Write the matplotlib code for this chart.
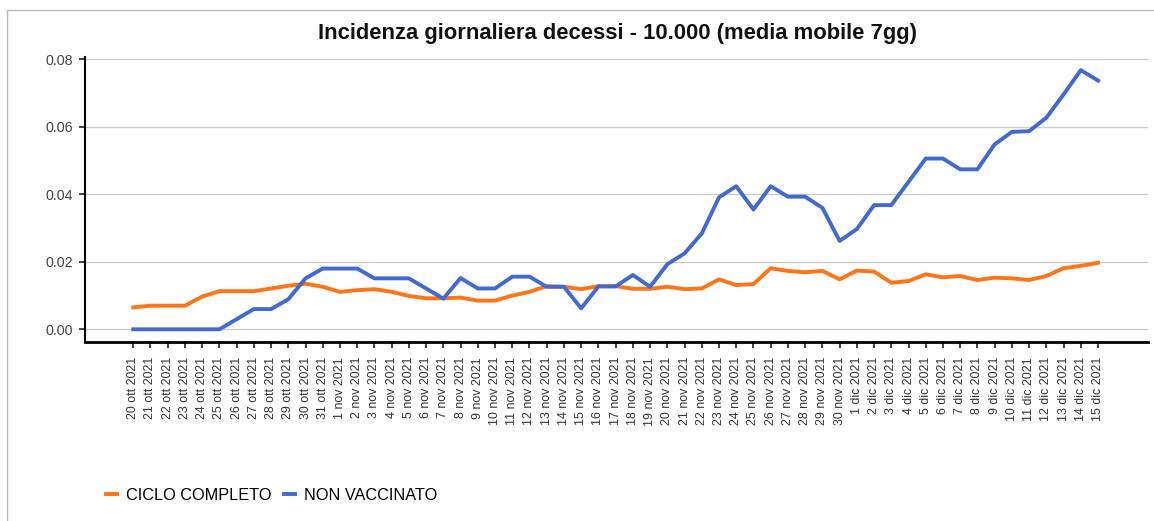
import numpy as np
import pandas as pd
import matplotlib.pyplot as plt
from matplotlib.lines import Line2D

plt.rcParams['font.family'] = ['Liberation Sans', 'DejaVu Sans']

# categories: daily dates 20 ott 2021 -> 15 dic 2021
mesi = {10: 'ott', 11: 'nov', 12: 'dic'}
days = pd.date_range('2021-10-20', '2021-12-15')
date_labels = ['%d %s %d' % (d.day, mesi[d.month], d.year) for d in days]

ciclo_completo = [0.0065, 0.0070, 0.0070, 0.0070, 0.0097, 0.0113, 0.0113, 0.0113, 0.0121, 0.0129,
                  0.0135, 0.0126, 0.0111, 0.0116, 0.0119, 0.0111, 0.0099, 0.0092, 0.0092, 0.0094,
                  0.0085, 0.0085, 0.0100, 0.0111, 0.0128, 0.0126, 0.0119, 0.0128, 0.0128, 0.0120,
                  0.0120, 0.0126, 0.0119, 0.0121, 0.0148, 0.0131, 0.0134, 0.0181, 0.0173, 0.0169,
                  0.0173, 0.0148, 0.0174, 0.0171, 0.0138, 0.0143, 0.0163, 0.0154, 0.0158, 0.0146,
                  0.0153, 0.0151, 0.0146, 0.0158, 0.0181, 0.0188, 0.0197]
non_vaccinato = [0.0, 0.0, 0.0, 0.0, 0.0, 0.0, 0.0030, 0.0060, 0.0060, 0.0089,
                 0.0151, 0.0180, 0.0180, 0.0180, 0.0151, 0.0151, 0.0151, 0.0121, 0.0091, 0.0152,
                 0.0121, 0.0121, 0.0156, 0.0156, 0.0126, 0.0126, 0.0062, 0.0127, 0.0127, 0.0161,
                 0.0126, 0.0193, 0.0225, 0.0284, 0.0391, 0.0424, 0.0355, 0.0424, 0.0393, 0.0393,
                 0.0360, 0.0262, 0.0297, 0.0368, 0.0368, 0.0437, 0.0506, 0.0506, 0.0474, 0.0474,
                 0.0548, 0.0585, 0.0587, 0.0627, 0.0696, 0.0768, 0.0737]
y_ticks = [0.00, 0.02, 0.04, 0.06, 0.08]

col_ciclo = '#ff7417'
col_non = '#4169cf'

W, H = 1154, 521
fig = plt.figure(figsize=(W / 100, H / 100), dpi=100)
ax = fig.add_axes([85 / W, 1 - 341.7 / H, (1148 - 85) / W, (341.7 - 57.3) / H])

x = np.arange(len(date_labels))
ax.plot(x, ciclo_completo, color=col_ciclo, lw=2.8, solid_joinstyle='round', label='CICLO COMPLETO')
ax.plot(x, non_vaccinato, color=col_non, lw=2.8, solid_joinstyle='round', label='NON VACCINATO')

ax.set_xlim(-2.8, 58.9)
ax.set_ylim(-0.00367, 0.0806)
ax.set_yticks(y_ticks)
ax.set_yticklabels(['%.2f' % v for v in y_ticks])
ax.set_xticks(x)
ax.set_xticklabels(date_labels, rotation=90, ha='center', va='top')
ax.grid(axis='y', color='#cccccc', lw=1)
ax.set_axisbelow(True)

for s in ['top', 'right']:
    ax.spines[s].set_visible(False)
ax.spines['left'].set_linewidth(1.5)
ax.spines['bottom'].set_linewidth(2)
ax.tick_params(axis='y', length=4, width=1.2, color='#222222', pad=4.5, labelsize=10.3, labelcolor='#444444')
ax.tick_params(axis='x', length=4, width=1.2, color='#222222', pad=7, labelsize=8.9, labelcolor='#333333')

fig.text(617 / W, 1 - 33 / H, 'Incidenza giornaliera decessi - 10.000 (media mobile 7gg)',
         ha='center', va='center', fontsize=15.8, fontweight='bold', color='#111111')

fig.legend(loc='center left', bbox_to_anchor=(106 / W, 1 - 495 / H), frameon=False, ncol=2,
           fontsize=11.7, handlelength=0.7, handletextpad=0.55, columnspacing=0.75,
           borderaxespad=0, borderpad=0)

# outer frame (top and left only visible)
fig.add_artist(Line2D([7 / W, 7 / W], [0, 1 - 10 / H], transform=fig.transFigure, color='#bbbbbb', lw=1))
fig.add_artist(Line2D([7 / W, 1], [1 - 10 / H, 1 - 10 / H], transform=fig.transFigure, color='#bbbbbb', lw=1))

fig.savefig('out.png', dpi=100)
